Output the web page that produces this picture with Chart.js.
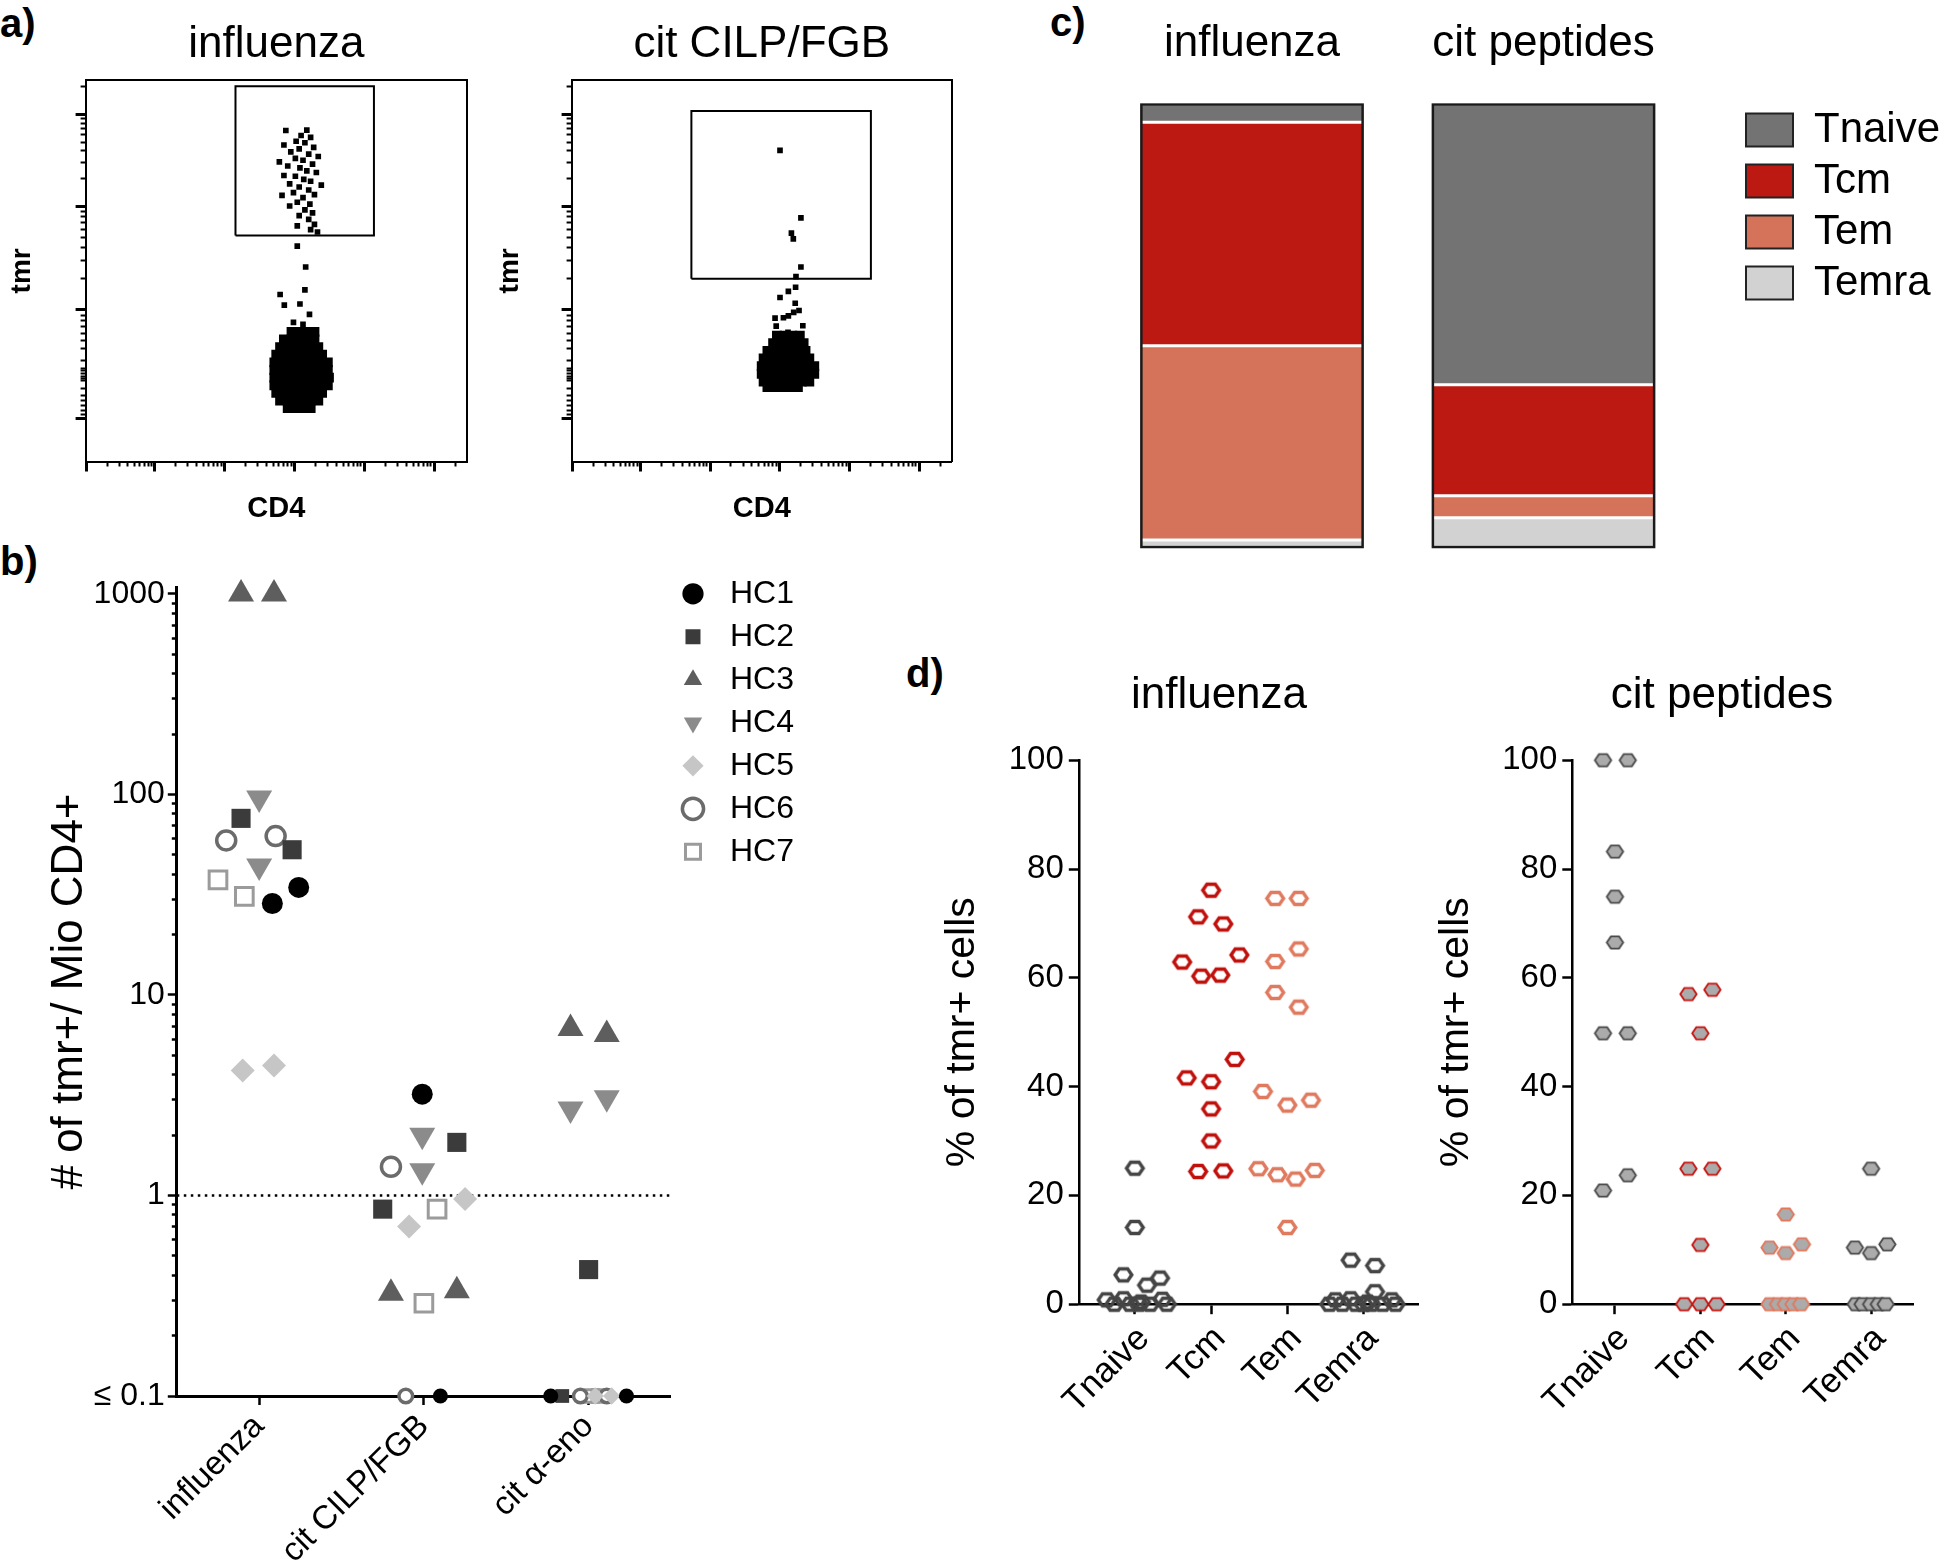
<!DOCTYPE html>
<html>
<head>
<meta charset="utf-8">
<script src="https://cdn.jsdelivr.net/npm/chart.js@4.4.1/dist/chart.umd.min.js"></script>
<style>
  html, body { margin: 0; padding: 0; background: #fff; }
  #page { position: relative; width: 1946px; height: 1568px; overflow: hidden; background: #fff; }
  canvas { position: absolute; }
  .tag { position: absolute; font-family: 'Liberation Sans', Arial, sans-serif; font-weight: bold;
         font-size: 40px; line-height: 40px; color: #000; }
</style>
</head>
<body>
<div id="page">
  <div class="tag" style="left:0;top:3px">a)</div>
  <div class="tag" style="left:0;top:541px">b)</div>
  <div class="tag" style="left:1050px;top:2px">c)</div>
  <div class="tag" style="left:906px;top:653px">d)</div>
  <canvas id="a1" width="480" height="560" style="left:0;top:0"></canvas>
  <canvas id="a2" width="480" height="560" style="left:486px;top:0"></canvas>
  <canvas id="b" width="830" height="1028" style="left:0;top:540px"></canvas>
  <canvas id="c" width="886" height="560" style="left:1060px;top:0"></canvas>
  <canvas id="d1" width="638" height="928" style="left:900px;top:640px"></canvas>
  <canvas id="d2" width="604" height="928" style="left:1420px;top:640px"></canvas>
</div>
<script>
Chart.defaults.font.family = "'Liberation Sans', Arial, sans-serif";
Chart.defaults.color = '#000';
Chart.defaults.borderColor = '#000';

// ---------- a) flow plots, display units 0-100 on both axes ----------
const flowXMajor = [0.3, 18.1, 36.4, 54.7, 73.0, 91.4];
const flowYMajor = [11.2, 39.9, 66.9, 91.05];
const flowYLowMinor = [12.4, 13.4, 14.7, 16.1, 17.4, 19.1, 21.2, 21.8, 22.4, 23.1, 23.8, 24.4,
                       26.6, 29.7, 31.7, 33.6, 35.5, 37.1, 38.4];

const flow1Events = [[52.5,86.8],[58.0,86.9],[56.5,85.5],[59.0,85.0],[55.2,84.0],[57.5,83.6],[52.0,83.0],
  [59.8,82.4],[56.0,82.0],[53.8,81.2],[58.5,80.6],[61.0,80.0],[55.0,79.5],[57.0,79.0],[50.8,78.6],
  [59.5,78.0],[53.0,77.5],[56.2,77.0],[58.0,76.2],[60.5,75.8],[52.0,75.0],[55.0,74.8],[57.2,74.0],
  [59.0,73.5],[53.5,72.8],[61.8,72.5],[56.0,72.0],[58.5,71.2],[54.5,70.5],[60.0,70.0],[51.5,69.8],
  [57.0,69.2],[55.5,68.0],[58.8,67.5],[53.5,67.0],[57.5,66.0],[59.5,65.2],[56.0,64.5],[58.5,63.5],
  [60.0,62.2],[55.5,61.8],[59.0,60.8],[60.8,60.2],[55.5,56.5],[57.7,51.0],[57.5,45.0],[51.0,43.8],
  [52.1,41.0],[56.2,41.3],[58.7,38.6],[54.5,36.5],[57.0,36.0]];
const flow1Core = [[54,34],[56,34],[58,34],[60,34],
  [52,32],[54,32],[56,32],[58,32],[60,32],
  [51,30],[53,30],[55,30],[57,30],[59,30],[61,30],
  [50,28],[52,28],[54,28],[56,28],[58,28],[60,28],[62,28],
  [49.5,26],[51.5,26],[53.5,26],[55.5,26],[57.5,26],[59.5,26],[61.5,26],[63.5,26],
  [49.5,24],[51.5,24],[53.5,24],[55.5,24],[57.5,24],[59.5,24],[61.5,24],[63.5,24],
  [49.5,22],[51.5,22],[53.5,22],[55.5,22],[57.5,22],[59.5,22],[61.5,22],[63.8,22],
  [49.5,20],[51.5,20],[53.5,20],[55.5,20],[57.5,20],[59.5,20],[61.5,20],[63.5,20],
  [50,18],[52,18],[54,18],[56,18],[58,18],[60,18],[62,18],
  [51,16],[53,16],[55,16],[57,16],[59,16],[61,16],
  [53,14],[55,14],[57,14],[59,14]];
const flow1GateX = [39.3, 75.6];
const flow1GateY = [59.3, 98.4];

const flow2Events = [[54.8,81.6],[60.3,63.9],[57.8,59.9],[58.3,58.4],[60.3,51.0],[59.0,48.5],[58.9,45.7],
  [57.0,44.6],[54.8,43.0],[58.8,41.5],[59.8,39.6],[58.4,39.1],[57.0,38.2],[55.7,37.7],[53.5,37.6],
  [53.8,35.5],[60.8,35.6],[56.9,33.9]];
const flow2Core = [[54,33],[56,33],[58,33],[60,33],
  [53,31],[55,31],[57,31],[59,31],[61,31],
  [51.5,29],[53.5,29],[55.5,29],[57.5,29],[59.5,29],[61.5,29],
  [50.5,27],[52.5,27],[54.5,27],[56.5,27],[58.5,27],[60.5,27],[62.5,27],
  [50,25],[52,25],[54,25],[56,25],[58,25],[60,25],[62,25],[63.8,25],
  [50,23],[52,23],[54,23],[56,23],[58,23],[60,23],[62,23],[63.8,23],
  [50.5,21],[52.5,21],[54.5,21],[56.5,21],[58.5,21],[60.5,21],[62.5,21],
  [51.5,19.5],[53.5,19.5],[55.5,19.5],[57.5,19.5],[59.5,19.5]];
const flow2GateX = [31.5, 78.7];
const flow2GateY = [47.9, 91.9];

// ---------- b) tmr+ frequency per donor ----------
const bCats = ['influenza', 'cit CILP/FGB', 'cit α-eno'];
const bMajorTicks = [0.1, 1, 10, 100, 1000];
const bThreshold = 1;
const hc1X = [0.58, 0.74, 1.49, 1.60, 2.27, 2.73], hc1Y = [28.6, 34.4, 3.2, 0.1, 0.1, 0.1];
const hc2X = [0.39, 0.70, 1.70, 1.25, 2.50, 2.34], hc2Y = [76, 53, 1.84, 0.855, 0.427, 0.1];
const hc3X = [0.39, 0.59, 1.30, 1.70, 2.39, 2.61], hc3Y = [1000, 1000, 0.325, 0.335, 6.8, 6.35];
const hc4X = [0.50, 0.50, 1.49, 1.49, 2.39, 2.61], hc4Y = [96, 44, 2.0, 1.33, 2.7, 3.07];
const hc5X = [0.40, 0.59, 1.75, 1.41, 2.54, 2.64], hc5Y = [4.2, 4.45, 0.96, 0.70, 0.1, 0.1];
const hc6X = [0.30, 0.60, 1.30, 1.39, 2.45, 2.61], hc6Y = [59, 62, 1.39, 0.1, 0.1, 0.1];
const hc7X = [0.25, 0.41, 1.58, 1.50, 2.52, 2.56], hc7Y = [37.5, 31, 0.855, 0.29, 0.1, 0.1];

// ---------- c) subset composition (%) ----------
const cGroups = ['influenza', 'cit peptides'];
const cTnaive = [4.0, 63.3];
const cTcm = [50.5, 25.1];
const cTem = [43.9, 5.0];
const cTemra = [1.6, 6.6];

// ---------- d) % of tmr+ cells per subset ----------
const dCats = ['Tnaive', 'Tcm', 'Tem', 'Temra'];
const dYTicks = [0, 20, 40, 60, 80, 100];
const fluTnaive = [25, 14.1, 5.4, 4.8, 3.5, 1.0, 0.8, 0.9, 0.4, 0, 0, 0, 0, 0];
const fluTnaiveX = [0, 0, -0.15, 0.33, 0.16, -0.15, -0.37, 0.36, 0.08, -0.27, -0.06, 0.05, 0.2, 0.42];
const fluTcm = [76.1, 71.2, 69.9, 62.9, 60.3, 60.5, 64.2, 45.0, 41.6, 40.9, 35.9, 30.0, 24.4, 24.5];
const fluTcmX = [0, -0.17, 0.16, -0.38, -0.13, 0.12, 0.37, 0.31, -0.32, 0, 0, 0, -0.17, 0.16];
const fluTem = [74.6, 74.6, 65.3, 63.0, 57.3, 54.6, 39.1, 36.6, 37.5, 24.9, 23.8, 23.0, 24.6, 14.1];
const fluTemX = [-0.16, 0.15, 0.15, -0.16, -0.16, 0.15, -0.32, 0, 0.31, -0.38, -0.13, 0.11, 0.36, 0];
const fluTemra = [8.1, 7.1, 2.3, 1.0, 0.8, 0.8, 0.4, 0, 0, 0, 0, 0, 0, 0];
const fluTemraX = [-0.17, 0.15, 0.15, -0.17, -0.37, 0.37, 0.05, -0.45, -0.28, -0.1, 0, 0.1, 0.25, 0.42];
const citTnaive = [100, 100, 83.2, 74.9, 66.5, 49.8, 49.8, 20.9, 23.7];
const citTnaiveX = [-0.14, 0.15, 0, 0, 0, -0.14, 0.15, -0.14, 0.15];
const citTcm = [57.0, 57.8, 49.8, 24.9, 24.9, 10.9, 0, 0, 0];
const citTcmX = [-0.14, 0.14, 0, -0.14, 0.14, 0, -0.19, 0, 0.19];
const citTem = [16.5, 10.4, 9.4, 11.0, 0, 0, 0, 0, 0];
const citTemX = [0, -0.19, 0, 0.19, -0.19, -0.09, 0, 0.09, 0.18];
const citTemra = [24.9, 10.4, 9.4, 11.0, 0, 0, 0, 0, 0];
const citTemraX = [0, -0.19, 0, 0.19, -0.18, -0.1, 0, 0.09, 0.17];

// ---------- helpers ----------
const hidden = { display: false };
const tickSet = vals => s => { s.ticks = vals.map(v => ({ value: v })); };
const pts = a => a.map(p => ({ x: p[0], y: p[1] }));

function logMinors(majors, tail) {
  const out = [];
  for (let i = 0; i < majors.length - 1; i++) {
    const d = majors[i + 1] - majors[i];
    for (let k = 2; k <= 9; k++) out.push(majors[i] + d * Math.log10(k));
  }
  if (tail) out.push(majors[majors.length - 1] + tail * Math.log10(2));
  return out;
}
const flowXMinor = logMinors(flowXMajor, 18.3);
const flowYMinor = logMinors([39.9, 66.9, 91.05], 24.15).concat(flowYLowMinor);

const bMinor = [];
for (let e = -1; e < 3; e++) for (let k = 2; k <= 9; k++) bMinor.push(k * Math.pow(10, e));

function hexImage(stroke, fill, lw, r) {
  const size = Math.ceil(2 * r + lw + 2);
  const cv = document.createElement('canvas');
  cv.width = size; cv.height = size;
  const g = cv.getContext('2d');
  g.beginPath();
  for (let i = 0; i < 6; i++) {
    const a = i * Math.PI / 3;
    const px = size / 2 + r * Math.cos(a);
    const py = size / 2 + r * Math.sin(a) * 0.85;
    if (i === 0) g.moveTo(px, py); else g.lineTo(px, py);
  }
  g.closePath();
  if (fill) { g.fillStyle = fill; g.fill(); }
  g.lineWidth = lw; g.strokeStyle = stroke; g.stroke();
  return cv;
}

// =======================
// a) flow cytometry dot plots
// =======================
function flowChart(id, title, events, core, gateX, gateY, yTitlePad, rightPad) {
  const gate = [[gateX[0], gateY[0]], [gateX[0], gateY[1]], [gateX[1], gateY[1]],
                [gateX[1], gateY[0]], [gateX[0], gateY[0]]];
  const frame = { drawOnChartArea: false, drawTicks: false };
  return new Chart(document.getElementById(id), {
    type: 'scatter',
    data: { datasets: [
      { label: 'gate', data: pts(gate), showLine: true, borderColor: '#000', borderWidth: 2,
        pointRadius: 0, xAxisID: 'x', yAxisID: 'y' },
      { label: 'core', data: pts(core), pointStyle: 'rect', pointRadius: 7, backgroundColor: '#000',
        borderWidth: 0, xAxisID: 'x', yAxisID: 'y' },
      { label: 'events', data: pts(events), pointStyle: 'rect', pointRadius: 4, backgroundColor: '#000',
        borderWidth: 0, xAxisID: 'x', yAxisID: 'y' }
    ]},
    options: {
      responsive: false, animation: false, devicePixelRatio: 1,
      layout: { padding: { left: 0, right: rightPad, top: 0, bottom: 0 } },
      plugins: {
        legend: hidden, tooltip: { enabled: false },
        title: { display: true, text: title, fullSize: false, font: { size: 44, weight: 'normal' },
                 padding: { top: 18.6, bottom: 8.8 } }
      },
      scales: {
        x: { axis: 'x', position: 'bottom', weight: 0, min: 0, max: 100, afterBuildTicks: tickSet(flowXMajor),
             ticks: hidden, grid: { drawOnChartArea: false, tickLength: 10, tickWidth: 3 },
             border: { display: true, width: 2 }, afterFit: s => { s.height = 0; } },
        x2: { axis: 'x', position: 'bottom', weight: 1, min: 0, max: 100, afterBuildTicks: tickSet(flowXMinor),
              ticks: hidden, grid: { drawOnChartArea: false, tickLength: 5, tickWidth: 2 },
              border: { display: false },
              title: { display: true, text: 'CD4', font: { size: 29, weight: 'bold' }, padding: { top: 0, bottom: 33.6 } },
              afterFit: s => { s.height = 98.5; } },
        xTop: { axis: 'x', position: 'top', min: 0, max: 100, ticks: hidden, grid: frame,
                border: { display: true, width: 2 }, afterFit: s => { s.height = 0; } },
        y: { axis: 'y', position: 'left', weight: 0, min: 0, max: 100, afterBuildTicks: tickSet(flowYMajor),
             ticks: hidden, grid: { drawOnChartArea: false, tickLength: 10, tickWidth: 3 },
             border: { display: true, width: 2 }, afterFit: s => { s.width = 0; } },
        y2: { axis: 'y', position: 'left', weight: 1, min: 0, max: 100, afterBuildTicks: tickSet(flowYMinor),
              ticks: hidden, grid: { drawOnChartArea: false, tickLength: 5, tickWidth: 2 },
              border: { display: false },
              title: { display: true, text: 'tmr', font: { size: 28, weight: 'bold' }, padding: { top: yTitlePad, bottom: 0 } },
              afterFit: s => { s.width = 85.6; } },
        yRight: { axis: 'y', position: 'right', min: 0, max: 100, ticks: hidden, grid: frame,
                  border: { display: true, width: 2 }, afterFit: s => { s.width = 0; } }
      }
    }
  });
}
flowChart('a1', 'influenza', flow1Events, flow1Core, flow1GateX, flow1GateY, 5.2, 13);
flowChart('a2', 'cit CILP/FGB', flow2Events, flow2Core, flow2GateX, flow2GateY, 7.2, 14.1);

// =======================
// b) frequencies, log scale
// =======================
const smallAtFloor = r => ctx => (ctx.raw && ctx.raw.y <= 0.1 ? 0.72 : 1) * r;
function hcSet(label, xs, ys, style) {
  return Object.assign({
    label, data: xs.map((x, i) => ({ x, y: ys[i] })), clip: false, borderWidth: 0,
    xAxisID: 'x', yAxisID: 'y'
  }, style, { pointRadius: smallAtFloor(style.r) });
}
new Chart(document.getElementById('b'), {
  type: 'scatter',
  data: { datasets: [
    hcSet('HC1', hc1X, hc1Y, { r: 10.5, pointStyle: 'circle', backgroundColor: '#000', borderColor: '#000' }),
    hcSet('HC2', hc2X, hc2Y, { r: 13.5, pointStyle: 'rect', backgroundColor: '#3b3b3b', borderColor: '#3b3b3b' }),
    hcSet('HC3', hc3X, hc3Y, { r: 15, pointStyle: 'triangle', backgroundColor: '#5e5e5e', borderColor: '#5e5e5e' }),
    hcSet('HC4', hc4X, hc4Y, { r: 15, pointStyle: 'triangle', pointRotation: 180, backgroundColor: '#8b8b8b', borderColor: '#8b8b8b' }),
    hcSet('HC5', hc5X, hc5Y, { r: 12, pointStyle: 'rectRot', backgroundColor: '#c6c6c6', borderColor: '#c6c6c6' }),
    hcSet('HC6', hc6X, hc6Y, { r: 9.5, pointStyle: 'circle', backgroundColor: '#fff', borderColor: '#6b6b6b', borderWidth: 3.5 }),
    hcSet('HC7', hc7X, hc7Y, { r: 12.5, pointStyle: 'rect', backgroundColor: '#fff', borderColor: '#9b9b9b', borderWidth: 3 }),
    { label: 'threshold', data: [{ x: 0, y: bThreshold }, { x: bCats.length, y: bThreshold }], showLine: true,
      borderColor: '#000', borderWidth: 2.5, borderDash: [2.5, 4.5], pointRadius: 0, order: 10,
      xAxisID: 'x', yAxisID: 'y' }
  ]},
  options: {
    responsive: false, animation: false, devicePixelRatio: 1,
    layout: { padding: { left: 0, right: 36, top: 26.8, bottom: 0 } },
    plugins: {
      tooltip: { enabled: false },
      legend: { display: true, position: 'right', align: 'start',
        labels: { usePointStyle: true, boxWidth: 22, boxHeight: 15, padding: 11, font: { size: 32 },
                  textAlign: 'right', filter: item => item.text.startsWith('HC') } }
    },
    scales: {
      x: { type: 'linear', position: 'bottom', min: 0, max: bCats.length,
           afterBuildTicks: tickSet(bCats.map((c, i) => i + 0.5)),
           ticks: { font: { size: 33 }, minRotation: 45, maxRotation: 45, autoSkip: false, padding: 2,
                    callback: v => bCats[Math.round(v - 0.5)] },
           grid: { drawOnChartArea: false, tickLength: 9, tickWidth: 2.5 },
           border: { width: 3 }, afterFit: s => { s.height = 172; } },
      xTop: { axis: 'x', position: 'top', min: 0, max: 1, ticks: hidden, grid: hidden,
              border: { display: false }, afterFit: s => { s.height = 20.2; } },
      yMinor: { type: 'logarithmic', axis: 'y', position: 'left', weight: 0, min: 0.1, max: 1083,
                afterBuildTicks: tickSet(bMinor), ticks: hidden,
                grid: { drawOnChartArea: false, tickLength: 5, tickWidth: 2.5 },
                border: { display: false }, afterFit: s => { s.width = 0; } },
      y: { type: 'logarithmic', position: 'left', weight: 1, min: 0.1, max: 1083,
           afterBuildTicks: tickSet(bMajorTicks),
           ticks: { font: { size: 32 }, padding: 3, callback: v => (v <= 0.1 ? '≤ 0.1' : String(v)) },
           grid: { drawOnChartArea: false, tickLength: 9, tickWidth: 2.5 },
           border: { display: true, width: 3 },
           title: { display: true, text: '# of tmr+/ Mio CD4+', font: { size: 44 }, padding: { top: 43, bottom: 0 } },
           afterFit: s => { s.width = 176.8; } }
    }
  }
});

// =======================
// c) stacked composition bars
// =======================
const barOutline = {
  id: 'barOutline',
  afterDatasetsDraw(chart) {
    const n = chart.data.datasets.length;
    const bottom = chart.getDatasetMeta(0).data;
    const ctx = chart.ctx;
    ctx.save();
    ctx.strokeStyle = '#1a1a1a';
    ctx.lineWidth = 2.5;
    chart.getDatasetMeta(n - 1).data.forEach((bar, i) => {
      const p = bar.getProps(['x', 'y', 'width'], true);
      const base = bottom[i].getProps(['base'], true).base;
      ctx.strokeRect(p.x - p.width / 2, p.y, p.width, base - p.y);
    });
    ctx.restore();
  }
};
const segment = (label, data, color) => ({
  label, data, backgroundColor: color, borderColor: '#fff',
  borderWidth: { top: 1.5, bottom: 1.5, left: 0, right: 0 }, borderSkipped: false,
  barPercentage: 0.759, categoryPercentage: 1
});
new Chart(document.getElementById('c'), {
  type: 'bar',
  data: { labels: cGroups, datasets: [
    segment('Temra', cTemra, '#d2d2d2'),
    segment('Tem', cTem, '#d4735a'),
    segment('Tcm', cTcm, '#bd1913'),
    segment('Tnaive', cTnaive, '#737373')
  ]},
  plugins: [barOutline],
  options: {
    responsive: false, animation: false, devicePixelRatio: 1,
    layout: { padding: { left: 46.25, right: 0, top: 0, bottom: 13 } },
    plugins: {
      tooltip: { enabled: false },
      legend: { display: true, position: 'right', align: 'start', reverse: true, maxWidth: 209,
        title: { display: true, text: ' ', font: { size: 10 }, padding: { top: 88, bottom: 0 } },
        labels: { boxWidth: 47, boxHeight: 33, padding: 9, font: { size: 42 },
          generateLabels: chart => Chart.defaults.plugins.legend.labels.generateLabels(chart)
            .map(l => Object.assign(l, { strokeStyle: '#222', lineWidth: 2 })) } }
    },
    scales: {
      x: { position: 'top', stacked: true, grid: { display: false, drawTicks: false }, border: { display: false },
           ticks: { font: { size: 44 }, padding: 34.6, maxRotation: 0 }, afterFit: s => { s.height = 104.6; } },
      y: { display: false, stacked: true, min: 0, max: 100 },
      yR: { axis: 'y', position: 'right', weight: 0, min: 0, max: 1, ticks: hidden, grid: hidden,
            border: { display: false }, afterFit: s => { s.width = 47.75; } }
    }
  }
});

// =======================
// d) subset dot plots
// =======================
const openHex = c => hexImage(c, null, 3.5, 8.3);
const fillHex = c => hexImage(c, '#ababab', 1.8, 8.2);
function dotSet(label, values, jitter, cat, img) {
  return { label, data: values.map((v, i) => ({ x: cat + jitter[i], y: v })), pointStyle: img,
           pointRadius: 9, borderWidth: 0, clip: false };
}
function dotChart(id, title, sets, xMin, xMax, yWidth, yTitlePad, rightWidth) {
  return new Chart(document.getElementById(id), {
    type: 'scatter',
    data: { datasets: sets },
    options: {
      responsive: false, animation: false, devicePixelRatio: 1,
      layout: { padding: 0 },
      plugins: {
        legend: hidden, tooltip: { enabled: false },
        title: { display: true, text: title, font: { size: 44, weight: 'normal' }, padding: { top: 29.2, bottom: 38.2 } }
      },
      scales: {
        x: { type: 'linear', position: 'bottom', min: xMin, max: xMax, afterBuildTicks: tickSet([0, 1, 2, 3]),
             ticks: { font: { size: 35 }, minRotation: 45, maxRotation: 45, autoSkip: false, padding: 4,
                      labelOffset: 9, callback: v => dCats[Math.round(v)] },
             grid: { drawOnChartArea: false, tickLength: 10, tickWidth: 2.5 },
             border: { width: 2.5 }, afterFit: s => { s.height = 263.8; } },
        y: { type: 'linear', position: 'left', min: 0, max: 100, afterBuildTicks: tickSet(dYTicks),
             ticks: { font: { size: 33 }, padding: 5 },
             grid: { drawOnChartArea: false, tickLength: 10, tickWidth: 2.5 },
             border: { width: 2.5 },
             title: { display: true, text: '% of tmr+ cells', font: { size: 41 }, padding: { top: yTitlePad, bottom: 0 } },
             afterFit: s => { s.width = yWidth; } },
        yR: { axis: 'y', position: 'right', min: 0, max: 1, ticks: hidden, grid: hidden,
              border: { display: false }, afterFit: s => { s.width = rightWidth; } }
      }
    }
  });
}
dotChart('d1', 'influenza', [
  dotSet('Tnaive', fluTnaive, fluTnaiveX, 0, openHex('#454545')),
  dotSet('Tcm', fluTcm, fluTcmX, 1, openHex('#c0100c')),
  dotSet('Tem', fluTem, fluTemX, 2, openHex('#e07a5f')),
  dotSet('Temra', fluTemra, fluTemraX, 3, openHex('#454545'))
], -0.735, 3.725, 178.8, 38.4, 119.1);
dotChart('d2', 'cit peptides', [
  dotSet('Tnaive', citTnaive, citTnaiveX, 0, fillHex('#4a4a4a')),
  dotSet('Tcm', citTcm, citTcmX, 1, fillHex('#c8120e')),
  dotSet('Tem', citTem, citTemX, 2, fillHex('#e2775c')),
  dotSet('Temra', citTemra, citTemraX, 3, fillHex('#4a4a4a'))
], -0.5, 3.5, 152.3, 12.4, 110.2);
</script>
</body>
</html>
